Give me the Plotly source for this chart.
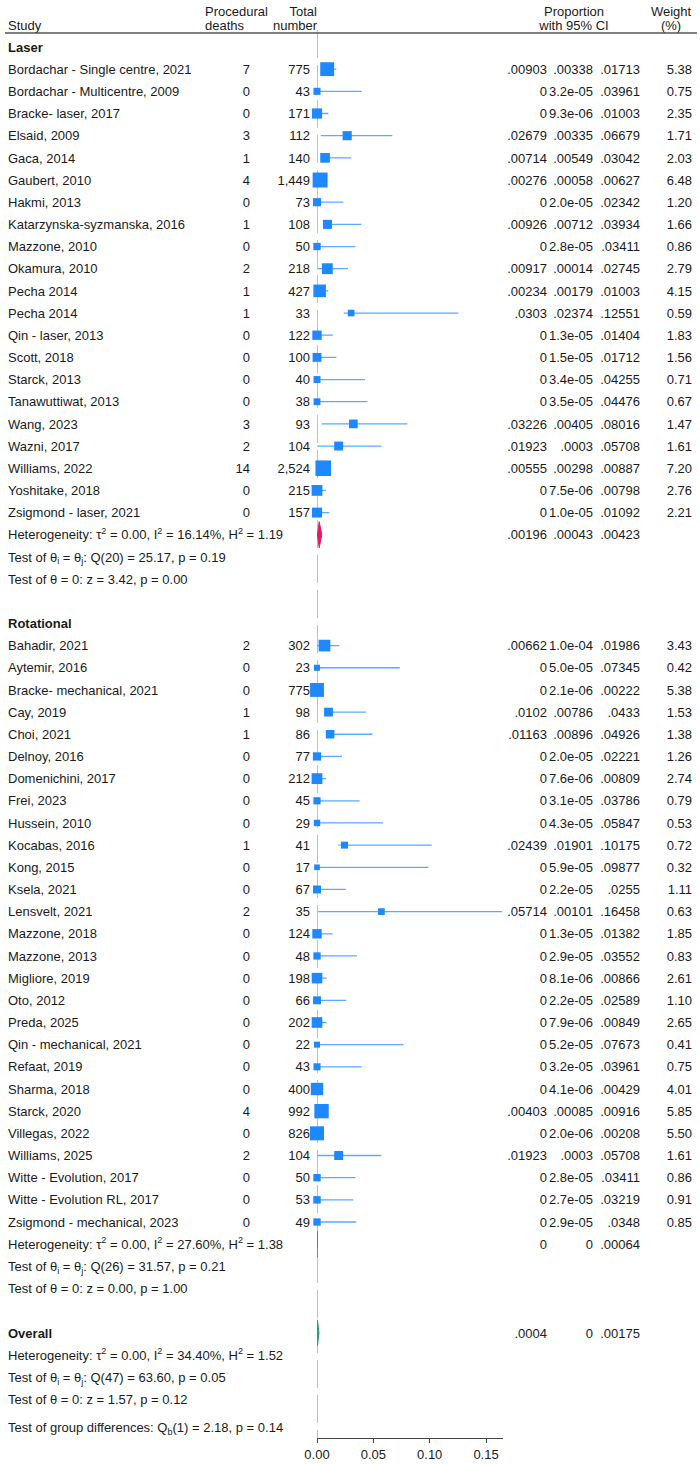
import plotly.graph_objects as go

# ---------------- data ----------------
laser_study = ["Bordachar - Single centre, 2021", "Bordachar - Multicentre, 2009", "Bracke- laser, 2017",
               "Elsaid, 2009", "Gaca, 2014", "Gaubert, 2010", "Hakmi, 2013", "Katarzynska-syzmanska, 2016",
               "Mazzone, 2010", "Okamura, 2010", "Pecha 2014", "Pecha 2014", "Qin - laser, 2013", "Scott, 2018",
               "Starck, 2013", "Tanawuttiwat, 2013", "Wang, 2023", "Wazni, 2017", "Williams, 2022",
               "Yoshitake, 2018", "Zsigmond - laser, 2021"]
laser_deaths = [7, 0, 0, 3, 1, 4, 0, 1, 0, 2, 1, 1, 0, 0, 0, 0, 3, 2, 14, 0, 0]
laser_total = [775, 43, 171, 112, 140, 1449, 73, 108, 50, 218, 427, 33, 122, 100, 40, 38, 93, 104, 2524, 215, 157]
laser_est = [.00903, 0, 0, .02679, .00714, .00276, 0, .00926, 0, .00917, .00234, .0303, 0, 0, 0, 0,
             .03226, .01923, .00555, 0, 0]
laser_lo = [.00338, 3.2e-05, 9.3e-06, .00335, .00549, .00058, 2.0e-05, .00712, 2.8e-05, .00014, .00179,
            .02374, 1.3e-05, 1.5e-05, 3.4e-05, 3.5e-05, .00405, .0003, .00298, 7.5e-06, 1.0e-05]
laser_hi = [.01713, .03961, .01003, .06679, .03042, .00627, .02342, .03934, .03411, .02745, .01003, .12551,
            .01404, .01712, .04255, .04476, .08016, .05708, .00887, .00798, .01092]
laser_w = [5.38, 0.75, 2.35, 1.71, 2.03, 6.48, 1.20, 1.66, 0.86, 2.79, 4.15, 0.59, 1.83, 1.56, 0.71, 0.67,
           1.47, 1.61, 7.20, 2.76, 2.21]
laser_sub = [.00196, .00043, .00423]
laser_stats = ["Heterogeneity: τ<sup>2</sup> = 0.00, I<sup>2</sup> = 16.14%, H<sup>2</sup> = 1.19",
               "Test of θ<sub>i</sub> = θ<sub>j</sub>: Q(20) = 25.17, p = 0.19",
               "Test of θ = 0: z = 3.42, p = 0.00"]

rot_study = ["Bahadir, 2021", "Aytemir, 2016", "Bracke- mechanical, 2021", "Cay, 2019", "Choi, 2021",
             "Delnoy, 2016", "Domenichini, 2017", "Frei, 2023", "Hussein, 2010", "Kocabas, 2016", "Kong, 2015",
             "Ksela, 2021", "Lensvelt, 2021", "Mazzone, 2018", "Mazzone, 2013", "Migliore, 2019", "Oto, 2012",
             "Preda, 2025", "Qin - mechanical, 2021", "Refaat, 2019", "Sharma, 2018", "Starck, 2020",
             "Villegas, 2022", "Williams, 2025", "Witte - Evolution, 2017", "Witte - Evolution RL, 2017",
             "Zsigmond - mechanical, 2023"]
rot_deaths = [2, 0, 0, 1, 1, 0, 0, 0, 0, 1, 0, 0, 2, 0, 0, 0, 0, 0, 0, 0, 0, 4, 0, 2, 0, 0, 0]
rot_total = [302, 23, 775, 98, 86, 77, 212, 45, 29, 41, 17, 67, 35, 124, 48, 198, 66, 202, 22, 43, 400, 992,
             826, 104, 50, 53, 49]
rot_est = [.00662, 0, 0, .0102, .01163, 0, 0, 0, 0, .02439, 0, 0, .05714, 0, 0, 0, 0, 0, 0, 0, 0, .00403,
           0, .01923, 0, 0, 0]
rot_lo = [1.0e-04, 5.0e-05, 2.1e-06, .00786, .00896, 2.0e-05, 7.6e-06, 3.1e-05, 4.3e-05, .01901, 5.9e-05,
          2.2e-05, .00101, 1.3e-05, 2.9e-05, 8.1e-06, 2.2e-05, 7.9e-06, 5.2e-05, 3.2e-05, 4.1e-06, .00085,
          2.0e-06, .0003, 2.8e-05, 2.7e-05, 2.9e-05]
rot_hi = [.01986, .07345, .00222, .0433, .04926, .02221, .00809, .03786, .05847, .10175, .09877, .0255, .16458,
          .01382, .03552, .00866, .02589, .00849, .07673, .03961, .00429, .00916, .00208, .05708, .03411,
          .03219, .0348]
rot_w = [3.43, 0.42, 5.38, 1.53, 1.38, 1.26, 2.74, 0.79, 0.53, 0.72, 0.32, 1.11, 0.63, 1.85, 0.83, 2.61, 1.10,
         2.65, 0.41, 0.75, 4.01, 5.85, 5.50, 1.61, 0.86, 0.91, 0.85]
rot_sub = [0, 0, .00064]
rot_stats = ["Heterogeneity: τ<sup>2</sup> = 0.00, I<sup>2</sup> = 27.60%, H<sup>2</sup> = 1.38",
             "Test of θ<sub>i</sub> = θ<sub>j</sub>: Q(26) = 31.57, p = 0.21",
             "Test of θ = 0: z = 0.00, p = 1.00"]

overall = [.0004, 0, .00175]
overall_stats = ["Heterogeneity: τ<sup>2</sup> = 0.00, I<sup>2</sup> = 34.40%, H<sup>2</sup> = 1.52",
                 "Test of θ<sub>i</sub> = θ<sub>j</sub>: Q(47) = 63.60, p = 0.05",
                 "Test of θ = 0: z = 1.57, p = 0.12"]
group_diff = "Test of group differences: Q<sub>b</sub>(1) = 2.18, p = 0.14"

x_ticks = [0, 0.05, 0.10, 0.15]

# ---------------- layout helpers ----------------
W, H = 700, 1464
PLOT_BOTTOM = 1438
ROW0, STEP = 47, 22.17
FONT = "Liberation Sans, Arial, Helvetica, sans-serif"
FS = 13
TXT = "#1a1a1a"
BOX = "#1e88ff"
CI = "#5aaaff"
YTXT = 1.4  # visual centring of text


def ypos(slot):
    return ROW0 + STEP * slot


def fmt(v):
    if v == 0:
        return "0"
    if v <= 1.00001e-4:
        return f"{v:.1e}"
    s = f"{v:.5f}".rstrip("0")
    if s.startswith("0"):
        s = s[1:]
    return s


laser_slots = list(range(1, 1 + len(laser_study)))
ls_end = laser_slots[-1]
laser_sub_slot = ls_end + 1
rot_head_slot = ls_end + 5
rot_slots = list(range(rot_head_slot + 1, rot_head_slot + 1 + len(rot_study)))
rs_end = rot_slots[-1]
rot_sub_slot = rs_end + 1
overall_slot = rs_end + 5

studies = laser_study + rot_study
deaths = laser_deaths + rot_deaths
totals = laser_total + rot_total
est = laser_est + rot_est
lo = laser_lo + rot_lo
hi = laser_hi + rot_hi
wts = laser_w + rot_w
ys = [ypos(s) for s in laser_slots + rot_slots]

fig = go.Figure()

cx, cy = [], []
for l, h, y in zip(lo, hi, ys):
    cx += [l, h, None]
    cy += [y, y, None]
fig.add_trace(go.Scatter(x=cx, y=cy, mode="lines", line=dict(color=CI, width=1.3),
                         hoverinfo="skip", cliponaxis=False, showlegend=False))
sizes = [3 + 4.7 * (w ** 0.5) for w in wts]
fig.add_trace(go.Scatter(x=est, y=ys, mode="markers",
                         marker=dict(symbol="square", size=sizes, color=BOX, opacity=1, line=dict(width=0)),
                         cliponaxis=False, showlegend=False))


def diamond(vals, slot, color):
    e, l, h = vals
    yc = ypos(slot)
    hh = 13
    fig.add_trace(go.Scatter(x=[l, e, h, e, l], y=[yc, yc - hh, yc, yc + hh, yc], mode="lines",
                             fill="toself", fillcolor=color, line=dict(color=color, width=1),
                             cliponaxis=False, showlegend=False, hoverinfo="skip"))


diamond(laser_sub, laser_sub_slot, "#dc1c64")
diamond(rot_sub, rot_sub_slot, "#b0306a")
diamond(overall, overall_slot, "#18a57c")


def col(xs, yv, texts, pos):
    fig.add_trace(go.Scatter(x=xs, y=[v + YTXT for v in yv], text=texts, mode="text", textposition=pos,
                             xaxis="x2", yaxis="y",
                             textfont=dict(family=FONT, size=FS, color=TXT), cliponaxis=False,
                             showlegend=False, hoverinfo="skip"))


n = len(studies)
col([8] * n, ys, studies, "middle right")
col([250] * n, ys, [str(d) for d in deaths], "middle left")
col([310] * n, ys, [f"{t:,}" for t in totals], "middle left")
col([547] * n, ys, [fmt(v) for v in est], "middle left")
col([593] * n, ys, [fmt(v) for v in lo], "middle left")
col([640] * n, ys, [fmt(v) for v in hi], "middle left")
col([692] * n, ys, [f"{w:.2f}" for w in wts], "middle left")

sub_rows = [(laser_sub, laser_sub_slot), (rot_sub, rot_sub_slot), (overall, overall_slot)]
for xv, idx in [(547, 0), (593, 1), (640, 2)]:
    col([xv] * 3, [ypos(s) for _, s in sub_rows], [fmt(v[idx]) for v, _ in sub_rows], "middle left")

lbl_y = [ypos(0), ypos(rot_head_slot), ypos(overall_slot)]
col([8] * 3, lbl_y, ["<b>Laser</b>", "<b>Rotational</b>", "<b>Overall</b>"], "middle right")
st_y, st_t = [], []
for base, stats in [(laser_sub_slot, laser_stats), (rot_sub_slot, rot_stats), (overall_slot + 1, overall_stats)]:
    for k, s in enumerate(stats):
        st_y.append(ypos(base + k))
        st_t.append(s)
st_y.append(ypos(overall_slot + 3) + 28)
st_t.append(group_diff)
col([8] * len(st_y), st_y, st_t, "middle right")

h1, h2 = 11, 25
col([8], [h2], ["Study"], "middle right")
col([205, 205], [h1, h2], ["Procedural", "deaths"], "middle right")
col([317, 317], [h1, h2], ["Total", "number"], "middle left")
col([574, 574], [h1, h2], ["Proportion", "with 95% CI"], "middle center")
col([671, 671], [h1, h2], ["Weight", "(%)"], "middle center")

shapes = [
    dict(type="line", xref="paper", yref="y", x0=5 / W, x1=697 / W, y0=33, y1=33,
         line=dict(color="#555555", width=1.5)),
    dict(type="line", xref="x", yref="y", x0=0, x1=0, y0=30, y1=PLOT_BOTTOM, layer="below",
         line=dict(color="#94d494", width=1.8, dash="28px,7px")),
]

fig.update_layout(
    template="none",
    width=W, height=H, margin=dict(l=0, r=0, t=0, b=H - PLOT_BOTTOM, pad=0, autoexpand=False),
    paper_bgcolor="white", plot_bgcolor="rgba(0,0,0,0)",
    font=dict(family=FONT, size=FS, color=TXT),
    shapes=shapes,
    xaxis=dict(domain=[317 / W, 502.5 / W], range=[0, 0.1646], showgrid=False, zeroline=False,
               showline=True, linecolor="#444444", linewidth=1, ticks="outside", ticklen=4,
               tickcolor="#444444", tickvals=x_ticks, ticktext=[f"{t:.2f}" for t in x_ticks],
               tickfont=dict(size=FS, color=TXT), fixedrange=True, automargin=False),
    xaxis2=dict(domain=[0, 1], range=[0, W], visible=False, anchor="y", fixedrange=True, automargin=False),
    yaxis=dict(domain=[0, 1], range=[PLOT_BOTTOM, 0], visible=False, fixedrange=True, automargin=False),
    showlegend=False,
)

fig.write_html("out.html")
